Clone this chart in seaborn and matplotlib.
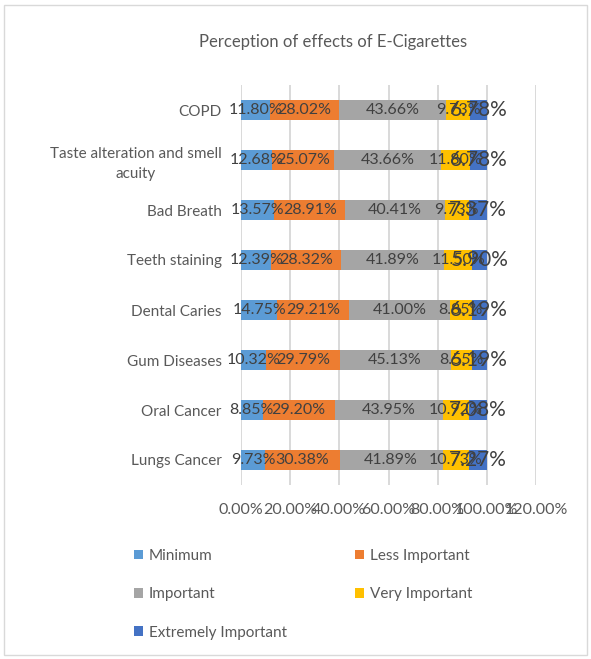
import matplotlib
matplotlib.use("Agg")
import matplotlib.pyplot as plt
from matplotlib.patches import Patch, Rectangle
import seaborn as sns
import pandas as pd
import numpy as np

categories = ["COPD", "Taste alteration and smell\nacuity", "Bad Breath", "Teeth staining",
              "Dental Caries", "Gum Diseases", "Oral Cancer", "Lungs Cancer"]
minimum = [11.80, 12.68, 13.57, 12.39, 14.75, 10.32, 8.85, 9.73]
less_important = [28.02, 25.07, 28.91, 28.32, 29.21, 29.79, 29.20, 30.38]
important = [43.66, 43.66, 40.41, 41.89, 41.00, 45.13, 43.95, 41.89]
very_important = [9.73, 11.80, 9.73, 11.50, 8.85, 8.55, 10.92, 10.73]
extremely_important = [6.78, 6.78, 7.37, 5.90, 6.19, 6.19, 7.08, 7.27]
series_names = ["Minimum", "Less Important", "Important", "Very Important", "Extremely Important"]
series_values = [minimum, less_important, important, very_important, extremely_important]
colors = ["#5B9BD5", "#ED7D31", "#A5A5A5", "#FFC000", "#4472C4"]
tick_values = [0, 20, 40, 60, 80, 100, 120]

sns.set_theme(style="white")
plt.rcParams["font.family"] = ["Lato", "DejaVu Sans"]
txt = "#595959"

fig = plt.figure(figsize=(5.91, 6.59), dpi=100)
ax = fig.add_axes([241/591, 1-485/659, (536-241)/591, 400/659])

vals = np.array(series_values)
cum = np.cumsum(vals, axis=0)
# draw from the longest cumulative to the shortest so segments stack
for i in range(len(series_names)-1, -1, -1):
    df = pd.DataFrame({"cat": categories, "val": cum[i]})
    sns.barplot(data=df, x="val", y="cat", orient="h", color=colors[i],
                width=0.4, saturation=1, ax=ax, zorder=3,
                linewidth=0, edgecolor="none")

for i in range(len(series_names)):
    for j in range(len(categories)):
        cx = cum[i][j] - vals[i][j] / 2
        fs = 15 if i == 4 else 11.5
        ax.text(cx, j, f"{vals[i][j]:.2f}%", ha="center", va="center",
                fontsize=fs, color="#404040", zorder=5)

ax.set_xlim(0, 120)
ax.set_ylim(7.5, -0.5)
ax.set_xticks(tick_values)
ax.set_xticklabels([f"{t:.2f}%" for t in tick_values], fontsize=11.5, color=txt)
ax.xaxis.grid(True, color="#D9D9D9", linewidth=1.4, zorder=0)
ax.set_axisbelow(True)
ax.tick_params(axis="x", length=0, pad=13)
ax.tick_params(axis="y", length=0, pad=14)
for lab in ax.get_yticklabels():
    lab.set_fontsize(11)
    lab.set_color(txt)
    lab.set_multialignment("center")
    lab.set_linespacing(1.5)
for s in ax.spines.values():
    s.set_visible(False)
ax.set_xlabel("")
ax.set_ylabel("")

fig.text(333/591, 1-42/659, "Perception of effects of E-Cigarettes", ha="center", va="center",
         fontsize=12, color=txt)

handles = [Patch(facecolor=c, edgecolor="none") for c in colors]
order = [0, 2, 4, 1, 3]
fig.legend([handles[k] for k in order], [series_names[k] for k in order],
           loc="upper left", bbox_to_anchor=(120/591, 1-535/659), ncol=2, frameon=False,
           fontsize=11, labelcolor=txt, handlelength=0.6, handleheight=0.6,
           handletextpad=0.4, labelspacing=1.6, columnspacing=4.45)

fig.patches.append(Rectangle((4/591, 4/659), 583/591, 650/659, transform=fig.transFigure,
                             fill=False, edgecolor="#D9D9D9", linewidth=1))
fig.savefig("out.png", dpi=100)
